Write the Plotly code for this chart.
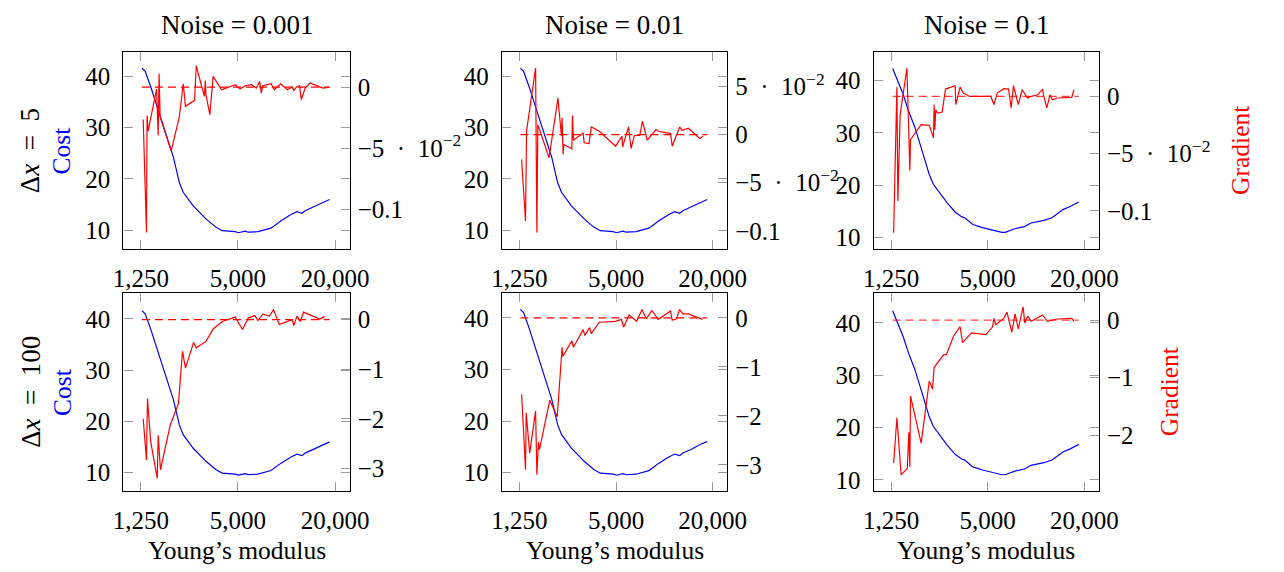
import plotly.graph_objects as go

# Cost curves (identical for both step sizes of a noise level)
cost_x_a = [1268, 1328, 1437, 1541, 1652, 1812, 1989, 2163, 2286, 2628, 3164, 3637, 3991,
            4806, 5035, 5524, 5787, 6653, 8013, 9208, 10590, 11618, 12455, 13047, 14653,
            16850, 18487]
cost_a = [41.6, 41.0, 38.0, 35.0, 32.0, 28.3, 24.2, 19.3, 17.4, 14.8, 12.2, 10.6, 9.9,
          9.7, 9.5, 9.8, 9.6, 9.7, 10.4, 11.8, 13.0, 13.6, 13.3, 13.8, 14.5, 15.5, 16.0]

cost_x_b = [1279, 1340, 1404, 1491, 1598, 1754, 1969, 2159, 2294, 2541, 2788, 3130, 3434,
            3597, 4039, 4641, 5333, 6130, 6420, 7379, 8479, 9302, 11197, 12575, 14788,
            16224, 18475]
cost_b = [42.3, 40.8, 39.6, 37.3, 34.4, 31.2, 26.2, 22.1, 20.2, 18.3, 16.7, 14.9, 14.0,
          13.8, 12.5, 11.9, 11.4, 11.0, 11.0, 11.7, 12.1, 12.8, 13.3, 13.8, 15.4, 15.9, 16.8]

# Gradients, dx = 5
grad_x_5_001 = [1291, 1353, 1365, 1385, 1562, 1599, 1620, 1644, 1925, 2163, 2286, 2361, 2690,
                2753, 3093, 3135, 3164, 3346, 3505, 3955, 4806, 5153, 5524, 6065, 6500, 6809,
                6970, 7134, 8013, 8393, 9208, 10109, 10838, 11090, 11618, 12058, 12340, 13050,
                13988, 16850, 18487]
grad_5_001 = [-0.0266, -0.119, -0.0234, -0.0361, -0.0016, -0.0397, 0.0109, -0.0245, -0.0524,
              -0.0245, 0.0027, -0.0158, -0.0109, 0.0174, -0.0076, 0.0054, -0.0065, -0.0226,
              0.0087, -0.0022, 0.0019, -0.0016, 0.0011, 0.0019, -0.0008, 0.0046, -0.0049,
              0.0011, 0.0027, -0.0022, 0.0027, -0.0022, 0.0, -0.0027, 0.0005, 0.0011, -0.0103,
              -0.0008, 0.0033, -0.0008, 0.0]

grad_x_5_01 = [1291, 1365, 1385, 1577, 1607, 1629, 1915, 2173, 2286, 2307, 2340, 2361, 2653,
               2677, 2715, 3121, 3164, 3395, 3505, 3937, 4965, 5450, 5500, 5980, 6205, 6500,
               7037, 7302, 7828, 8872, 9165, 10935, 11195, 12455, 12865, 14120, 16620, 17405]
grad_5_01 = [-0.0259, -0.0897, 0.0034, 0.069, -0.1017, 0.0103, -0.0241, 0.0379, -0.0017,
             0.0172, -0.0207, -0.0103, -0.0148, 0.0197, -0.0059, 0.0017, -0.0086, -0.0093,
             0.0079, 0.0034, -0.0121, -0.0017, -0.0128, 0.0079, -0.0145, -0.001, -0.001,
             0.0138, -0.0059, 0.0052, 0.0034, 0.001, -0.0121, 0.0079, 0.0045, 0.0066, -0.0041,
             -0.0017]

grad_x_5_1 = [1297, 1359, 1378, 1424, 1569, 1637, 1652, 1925, 2163, 2297, 2318, 2340, 2373,
              2428, 2602, 2728, 3135, 3164, 3362, 3521, 3865, 5227, 5475, 5735, 6293, 6746,
              7003, 7235, 7754, 8200, 8832, 9343, 10250, 10985, 11140, 11670, 12226, 12630,
              13540, 16695, 17250]
grad_5_1 = [-0.119, 0.0081, -0.0913, -0.0159, 0.0246, -0.0646, -0.0377, -0.0246, -0.0252,
            -0.0362, -0.0072, -0.029, -0.0116, -0.0145, -0.0136, 0.0064, 0.0093, -0.0072,
            0.0081, 0.0029, 0.0, 0.0, -0.0072, 0.0029, 0.0067, 0.0064, -0.0101, 0.0093,
            -0.0072, 0.0058, -0.0014, 0.0, 0.0014, 0.0064, 0.0014, -0.0101, 0.0014, -0.0029,
            -0.0014, -0.0009, 0.0058]

# Gradients, dx = 100
grad_x_100_001 = [1291, 1353, 1372, 1437, 1577, 1599, 1652, 1898, 2137, 2262, 2361, 2653, 2753,
                  3164, 3505, 3991, 4806, 5330, 5787, 6352, 6653, 7134, 7824, 8313, 9005,
                  10838, 11090, 11618, 12168, 12746, 16080, 17249]
grad_100_001 = [-2.0, -2.83, -1.59, -2.46, -3.2, -2.33, -3.03, -2.13, -1.69, -0.64, -0.98,
                -0.46, -0.57, -0.44, -0.19, -0.04, 0.05, -0.2, 0.03, 0.08, -0.02, 0.11, 0.07,
                0.2, -0.1, 0.0, -0.12, 0.07, -0.04, 0.15, 0.01, 0.06]

grad_x_100_01 = [1291, 1365, 1378, 1450, 1577, 1607, 1644, 1667, 1934, 2152, 2307, 2329, 2653,
                 2715, 3121, 3195, 3424, 3505, 3937, 4965, 5397, 5575, 6036, 6715, 7267, 7719,
                 8353, 9165, 10935, 11195, 11890, 12455, 13050, 14120, 17250]
grad_100_01 = [-1.56, -3.1, -1.94, -2.76, -1.9, -3.2, -2.53, -2.69, -1.68, -2.02, -0.6, -0.79,
               -0.47, -0.6, -0.24, -0.36, -0.2, -0.32, -0.09, -0.07, -0.03, -0.19, 0.06, -0.07,
               0.17, -0.02, 0.15, -0.03, 0.14, -0.05, -0.02, 0.17, 0.08, 0.08, -0.03]

grad_x_100_1 = [1297, 1359, 1444, 1577, 1614, 1637, 1652, 1925, 2163, 2265, 2318, 2665, 2766,
                3063, 3362, 3488, 3955, 4872, 5347, 5475, 5605, 6293, 6590, 7068, 7405, 7754,
                8313, 8512, 8872, 9343, 10985, 11780, 13540, 16695, 17250]
grad_100_1 = [-2.49, -1.7, -2.69, -2.58, -1.95, -2.55, -1.32, -2.14, -1.06, -1.2, -0.82, -0.6,
              -0.6, -0.28, -0.11, -0.39, -0.22, -0.25, -0.12, 0.03, -0.08, 0.03, 0.14, -0.21,
              0.11, -0.15, 0.23, -0.05, 0.07, -0.02, 0.09, -0.02, 0.02, 0.03, -0.02]

SP = "\u2002"
noise_labels = ["Noise = 0.001", "Noise = 0.01", "Noise = 0.1"]
dx_labels = ["Δ<i>x</i>" + SP + "=" + SP + "5", "Δ<i>x</i>" + SP + "=" + SP + "100"]
x_ticks = [1250, 5000, 20000]
x_tick_text = ["1,250", "5,000", "20,000"]

e5 = "5" + SP + "·" + SP + "10<sup>−2</sup>"
grad_ticks = [[0, -0.05, -0.1], [0.05, 0, -0.05, -0.1], [0, -0.05, -0.1],
              [0, -1, -2, -3], [0, -1, -2, -3], [0, -1, -2]]
grad_tick_text = [["0", "−" + e5, "−0.1"], [e5, "0", "−" + e5, "−0.1"], ["0", "−" + e5, "−0.1"],
                  ["0", "−1", "−2", "−3"], ["0", "−1", "−2", "−3"], ["0", "−1", "−2"]]
cost_ticks = [10, 20, 30, 40]

panels = [
    (cost_x_a, cost_a, grad_x_5_001, grad_5_001),
    (cost_x_a, cost_a, grad_x_5_01, grad_5_01),
    (cost_x_b, cost_b, grad_x_5_1, grad_5_1),
    (cost_x_a, cost_a, grad_x_100_001, grad_100_001),
    (cost_x_a, cost_a, grad_x_100_01, grad_100_01),
    (cost_x_b, cost_b, grad_x_100_1, grad_100_1),
]
cost_ranges = [[6.3, 44.8], [6.3, 44.8], [7.8, 45.5], [6.36, 45.05], [6.4, 44.8], [7.85, 45.7]]
grad_ranges = [[-0.1326, 0.0288], [-0.119, 0.0859], [-0.1333, 0.0389],
               [-3.46, 0.536], [-3.54, 0.508], [-2.976, 0.473]]

# page body keeps its default 8px margin, so the figure starts at (8, 8)
W, H = 1268, 556
OFF = 8


def px(X):
    return (X - OFF) / W


def py(Y):
    return 1 - (Y - OFF) / H


col_px = [(115, 347), (503, 734), (884, 1115)]
row_px = [(52, 250), (294, 493)]

FONT = "Liberation Serif"
BLUE = "#0000ff"
RED = "#ff0000"
TICKC = "#9a9a9a"

fig = go.Figure()
layout = dict(width=W, height=H, margin=dict(l=0, r=0, t=0, b=0),
              plot_bgcolor="white", paper_bgcolor="white", showlegend=False,
              font=dict(family=FONT, size=22, color="black"))

for k, (cx, cy, gx, gy) in enumerate(panels):
    r, c = divmod(k, 3)
    xa = "x%d" % (k + 1)
    yl = "y%d" % (2 * k + 1)
    yr = "y%d" % (2 * k + 2)
    fig.add_trace(go.Scatter(x=cx, y=cy, mode="lines", line=dict(color=BLUE, width=1.2),
                             xaxis=xa, yaxis=yl))
    fig.add_trace(go.Scatter(x=[cx[0], cx[-1]], y=[0, 0], mode="lines",
                             line=dict(color=RED, width=1.2, dash="8px,5px"),
                             opacity=0.75 if c == 2 else 1, xaxis=xa, yaxis=yr))
    fig.add_trace(go.Scatter(x=gx, y=gy, mode="lines", line=dict(color=RED, width=1.2),
                             xaxis=xa, yaxis=yr))

    tick_style = dict(ticks="inside", ticklen=9, tickwidth=1.3, tickcolor=TICKC,
                      showgrid=False, zeroline=False, ticklabelstandoff=7,
                      tickfont=dict(family=FONT, size=25, color="black"))
    layout["xaxis%d" % (k + 1)] = dict(
        type="log", range=[2.988, 4.392], domain=[px(col_px[c][0]), px(col_px[c][1])],
        anchor=yl, tickvals=x_ticks, ticktext=x_tick_text, showline=True,
        linecolor="black", linewidth=1.3, mirror="ticks", **tick_style)
    layout["yaxis%d" % (2 * k + 1)] = dict(
        range=cost_ranges[k], domain=[py(row_px[r][1]), py(row_px[r][0])], anchor=xa,
        tickvals=cost_ticks, showline=True, linecolor="black", linewidth=1.3,
        mirror="ticks", **tick_style)
    layout["yaxis%d" % (2 * k + 2)] = dict(
        range=grad_ranges[k], overlaying=yl, side="right", anchor=xa,
        tickvals=grad_ticks[k], ticktext=grad_tick_text[k], showline=False, **tick_style)

fig.update_layout(**layout)

ann = []
for c in range(3):
    cxm = px((col_px[c][0] + col_px[c][1]) / 2)
    ann.append(dict(text=noise_labels[c], x=cxm, y=py(25), xref="paper", yref="paper",
                    showarrow=False, font=dict(family=FONT, size=27, color="black"),
                    xanchor="center", yanchor="middle"))
    ann.append(dict(text="Young’s modulus", x=cxm, y=py(552), xref="paper", yref="paper",
                    showarrow=False, font=dict(family=FONT, size=25.5, color="black"),
                    xanchor="center", yanchor="middle"))
grad_label_x = [1260, 1187]
for r in range(2):
    cym = py((row_px[r][0] + row_px[r][1]) / 2)
    common = dict(y=cym, xref="paper", yref="paper", textangle=-90, showarrow=False,
                  xanchor="center", yanchor="middle")
    ann.append(dict(text=dx_labels[r], x=px(20), font=dict(family=FONT, size=27, color="black"),
                    **common))
    ann.append(dict(text="Cost", x=px(52), font=dict(family=FONT, size=25.5, color=BLUE),
                    **common))
    ann.append(dict(text="Gradient", x=px(grad_label_x[r]),
                    font=dict(family=FONT, size=25.5, color=RED), **common))
fig.update_layout(annotations=ann)

fig.write_html("out.html")
